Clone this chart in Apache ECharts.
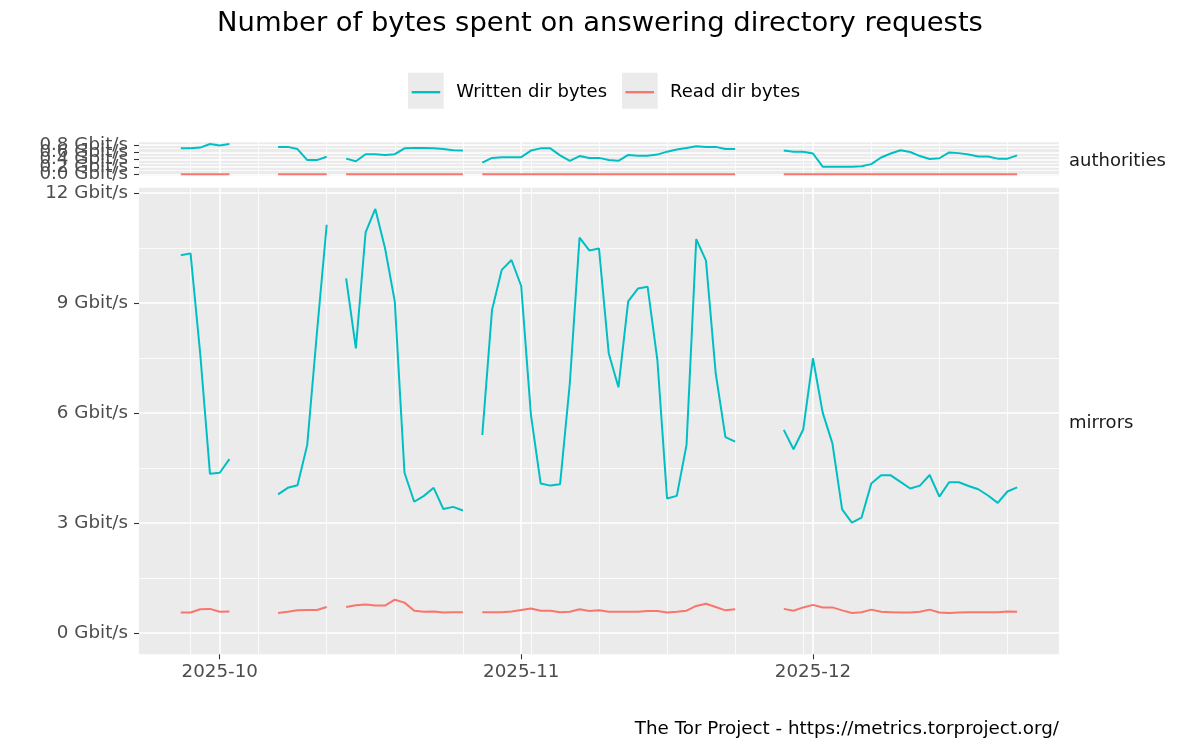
<!DOCTYPE html>
<html><head><meta charset="utf-8">
<script src="https://cdn.jsdelivr.net/npm/echarts@6/dist/echarts.min.js"></script>
<style>html,body{margin:0;padding:0;background:#fff}#c{width:1200px;height:750px}</style>
</head><body><div id="c"></div>
<script>
const N = null;
const dates = [
 '2025-09-27','2025-09-28','2025-09-29','2025-09-30',
 '2025-10-01','2025-10-02','2025-10-03','2025-10-04','2025-10-05','2025-10-06','2025-10-07','2025-10-08','2025-10-09','2025-10-10',
 '2025-10-11','2025-10-12','2025-10-13','2025-10-14','2025-10-15','2025-10-16','2025-10-17','2025-10-18','2025-10-19','2025-10-20',
 '2025-10-21','2025-10-22','2025-10-23','2025-10-24','2025-10-25','2025-10-26','2025-10-27','2025-10-28','2025-10-29','2025-10-30','2025-10-31',
 '2025-11-01','2025-11-02','2025-11-03','2025-11-04','2025-11-05','2025-11-06','2025-11-07','2025-11-08','2025-11-09','2025-11-10',
 '2025-11-11','2025-11-12','2025-11-13','2025-11-14','2025-11-15','2025-11-16','2025-11-17','2025-11-18','2025-11-19','2025-11-20',
 '2025-11-21','2025-11-22','2025-11-23','2025-11-24','2025-11-25','2025-11-26','2025-11-27','2025-11-28','2025-11-29','2025-11-30',
 '2025-12-01','2025-12-02','2025-12-03','2025-12-04','2025-12-05','2025-12-06','2025-12-07','2025-12-08','2025-12-09','2025-12-10',
 '2025-12-11','2025-12-12','2025-12-13','2025-12-14','2025-12-15','2025-12-16','2025-12-17','2025-12-18','2025-12-19','2025-12-20',
 '2025-12-21','2025-12-22'
];
// authorities panel (Gbit/s)
const authWritten = [
 0.71,0.71,0.73,0.83,
 0.79,0.83,N,N,N,N,0.75,0.75,0.69,0.39,0.39,0.48,N,0.43,0.36,0.55,0.55,0.53,0.55,0.71,0.72,0.72,0.71,0.69,0.66,0.65,N,0.32,0.45,0.47,0.47,
 0.47,0.65,0.71,0.71,0.52,0.37,0.50,0.45,0.45,0.39,0.37,0.53,0.51,0.51,0.54,0.62,0.68,0.72,0.77,0.75,0.75,0.69,0.69,N,N,N,N,0.65,0.62,0.62,
 0.57,0.21,0.21,0.21,0.21,0.22,0.28,0.46,0.57,0.66,0.61,0.50,0.42,0.44,0.60,0.58,0.54,0.49,0.49,0.43,0.43,0.52
];
const authRead = [
 0.002,0.002,0.002,0.002,
 0.002,0.002,N,N,N,N,0.002,0.002,0.002,0.002,0.002,0.002,N,0.002,0.002,0.002,0.002,0.002,0.002,0.002,0.002,0.002,0.002,0.002,0.002,0.002,N,0.002,0.002,0.002,0.002,
 0.002,0.002,0.002,0.002,0.002,0.002,0.002,0.002,0.002,0.002,0.002,0.002,0.002,0.002,0.002,0.002,0.002,0.002,0.002,0.002,0.002,0.002,0.002,N,N,N,N,0.002,0.002,0.002,
 0.002,0.002,0.002,0.002,0.002,0.002,0.002,0.002,0.002,0.002,0.002,0.002,0.002,0.002,0.002,0.002,0.002,0.002,0.002,0.002,0.002,0.002
];
// mirrors panel (Gbit/s)
const mirrorWritten = [
 10.30,10.35,7.60,4.34,
 4.37,4.74,N,N,N,N,3.78,3.96,4.03,5.13,8.2,11.13,N,9.67,7.76,10.92,11.56,10.49,9.04,4.37,3.58,3.74,3.96,3.38,3.44,3.34,N,5.40,8.81,9.90,10.17,
 9.46,5.95,4.08,4.02,4.06,6.81,10.78,10.43,10.48,7.63,6.70,9.04,9.39,9.44,7.45,3.67,3.74,5.13,10.74,10.15,7.08,5.34,5.22,N,N,N,N,5.54,5.01,5.55,
 7.49,6.01,5.17,3.37,3.01,3.15,4.08,4.30,4.30,4.12,3.94,4.02,4.31,3.72,4.11,4.11,4.01,3.92,3.75,3.55,3.86,3.97
];
const mirrorRead = [
 0.56,0.56,0.65,0.66,
 0.58,0.59,N,N,N,N,0.55,0.58,0.62,0.63,0.63,0.71,N,0.71,0.76,0.78,0.75,0.75,0.91,0.83,0.61,0.58,0.59,0.56,0.57,0.57,N,0.57,0.57,0.57,0.59,
 0.63,0.67,0.61,0.61,0.57,0.58,0.65,0.60,0.62,0.58,0.58,0.58,0.58,0.60,0.60,0.56,0.58,0.61,0.74,0.80,0.71,0.62,0.65,N,N,N,N,0.66,0.61,0.70,
 0.77,0.70,0.70,0.62,0.55,0.57,0.64,0.58,0.57,0.56,0.56,0.58,0.64,0.56,0.55,0.56,0.57,0.57,0.57,0.57,0.59,0.58
];
const monthTicks = ['2025-10-01','2025-11-01','2025-12-01'];
const weekTicks = ['2025-09-28','2025-10-05','2025-10-12','2025-10-19','2025-10-26','2025-11-02','2025-11-09','2025-11-16','2025-11-23','2025-11-30','2025-12-07','2025-12-14','2025-12-21'];
const authTicks = [0, 0.2, 0.4, 0.6, 0.8];
const authMinorTicks = [0.1, 0.3, 0.5, 0.7];
const mirrorTicks = [0, 3, 6, 9, 12];
const mirrorMinorTicks = [1.5, 4.5, 7.5, 10.5];

const FONT = 'DejaVu Sans';
const DAY = 86400000;
function ts(s){ const p = s.split('-').map(Number); return new Date(p[0], p[1]-1, p[2]).getTime(); }
function pairs(vals){ return dates.map((d,i) => [ts(d), vals[i] == null ? '-' : vals[i]]); }

const xMin = ts(dates[0]) - 4.3*DAY, xMax = ts(dates[dates.length-1]) + 4.3*DAY;
const mirMin = -0.578, mirMax = 12.14;
const authMin = -0.042, authMax = 0.875;
const mirTop = 187.7, mirH = 466.6;
const pxPerUnit = mirH / (mirMax - mirMin);
const authTop = 142.3, authH = (authMax - authMin) * pxPerUnit;

const major = {show:true, lineStyle:{color:'#FFFFFF', width:1.6}};
const minor = {show:true, lineStyle:{color:'#FFFFFF', width:0.8}};
const axisText = {fontFamily:FONT, fontSize:18.3, color:'#4D4D4D'};
const monthTs = monthTicks.map(ts), weekTs = weekTicks.map(ts);
function fmtMonth(v){ const d = new Date(v); return d.getFullYear() + '-' + String(d.getMonth()+1).padStart(2,'0'); }

function xAxes(g, withLabels){
  return [
    {type:'value', gridIndex:g, position:'bottom', min:xMin, max:xMax, axisLine:{show:false, onZero:false},
     axisTick:{show:withLabels, length:5, customValues:monthTs, lineStyle:{color:'#333333', width:1.1}},
     axisLabel:{show:withLabels, customValues:monthTs, formatter:fmtMonth, margin:9, interval:0, showMinLabel:true, showMaxLabel:true, ...axisText},
     splitLine:major},
    {type:'value', gridIndex:g, position:'bottom', min:xMin, max:xMax, axisLine:{show:false, onZero:false},
     axisTick:{show:false, customValues:weekTs}, axisLabel:{show:false, customValues:weekTs}, splitLine:minor}
  ];
}
// one main axis (ticks, major lines, first label group), one minor-line axis,
// and extra label-only axes so that crowded labels are all drawn
function yAxes(g, mn, mx, ticks, labelGroups, minorTicks, fmt){
  const base = {type:'value', gridIndex:g, position:'left', offset:0, min:mn, max:mx, axisLine:{show:false, onZero:false}};
  const lab = vals => ({show:true, customValues:vals, formatter:fmt, margin:11, interval:0, showMinLabel:true, showMaxLabel:true, hideOverlap:false, ...axisText});
  const axes = [
    {...base, axisTick:{show:true, length:5, customValues:ticks, lineStyle:{color:'#333333', width:1.1}},
     axisLabel:lab(labelGroups[0]), splitLine:major},
    {...base, axisTick:{show:false, customValues:minorTicks}, axisLabel:{show:false, customValues:minorTicks}, splitLine:minor}
  ];
  labelGroups.slice(1).forEach(vals => axes.push(
    {...base, axisTick:{show:false, customValues:vals}, axisLabel:lab(vals), splitLine:{show:false}}));
  return axes;
}
function line(name, color, xi, yi, vals){
  return {type:'line', name:name, xAxisIndex:xi, yAxisIndex:yi, data:pairs(vals), color:color,
    symbol:'none', showSymbol:false, connectNulls:false, lineStyle:{width:2, color:color}, itemStyle:{color:color}};
}
const authY = yAxes(0, authMin, authMax, authTicks, authTicks.map(v => [v]), authMinorTicks, v => Number(v).toFixed(1) + ' Gbit/s');
const mirY = yAxes(1, mirMin, mirMax, mirrorTicks, [mirrorTicks], mirrorMinorTicks, v => Math.round(v) + ' Gbit/s');
const mirYIndex = authY.length;

const TEAL = '#00BFC4', SALMON = '#F8766D';
const legendText = {fontFamily:FONT, fontSize:18, color:'#000000', padding:[0,0,0,11]};
const option = {
  animation:false,
  backgroundColor:'#FFFFFF',
  textStyle:{fontFamily:FONT},
  title:[
    {text:'Number of bytes spent on answering directory requests', left:'center', top:10.5, padding:0,
     textStyle:{fontFamily:FONT, fontSize:27.4, fontWeight:'normal', color:'#000000'}},
    {text:'The Tor Project - https://metrics.torproject.org/', right:141, top:720, padding:0,
     textStyle:{fontFamily:FONT, fontSize:18.3, fontWeight:'normal', color:'#000000'}},
    {text:'authorities', left:1069, top:152.5, padding:0,
     textStyle:{fontFamily:FONT, fontSize:18, fontWeight:'normal', color:'#1A1A1A'}},
    {text:'mirrors', left:1069, top:414, padding:0,
     textStyle:{fontFamily:FONT, fontSize:18, fontWeight:'normal', color:'#1A1A1A'}}
  ],
  legend:[
    {data:['Written dir bytes'], left:411.7, top:83.2, padding:0, icon:'rect', itemWidth:28.5, itemHeight:2.4,
     textStyle:legendText},
    {data:['Read dir bytes'], left:625.5, top:83.2, padding:0, icon:'rect', itemWidth:28.5, itemHeight:2.4,
     textStyle:legendText}
  ],
  graphic:[
    {type:'rect', shape:{x:408, y:72.7, width:35.7, height:36}, style:{fill:'#EBEBEB'}, z:0},
    {type:'rect', shape:{x:622, y:72.7, width:35.7, height:36}, style:{fill:'#EBEBEB'}, z:0}
  ],
  grid:[
    {left:139, right:141, top:authTop, height:authH, show:true, backgroundColor:'#EBEBEB', borderWidth:0},
    {left:139, right:141, top:mirTop, height:mirH, show:true, backgroundColor:'#EBEBEB', borderWidth:0}
  ],
  xAxis:[...xAxes(0,false), ...xAxes(1,true)],
  yAxis:[...authY, ...mirY],
  series:[
    line('Read dir bytes', SALMON, 0, 0, authRead),
    line('Written dir bytes', TEAL, 0, 0, authWritten),
    line('Read dir bytes', SALMON, 2, mirYIndex, mirrorRead),
    line('Written dir bytes', TEAL, 2, mirYIndex, mirrorWritten)
  ]
};
const chart = echarts.init(document.getElementById('c'), null, {renderer:'canvas'});
chart.setOption(option);
</script>
</body></html>
